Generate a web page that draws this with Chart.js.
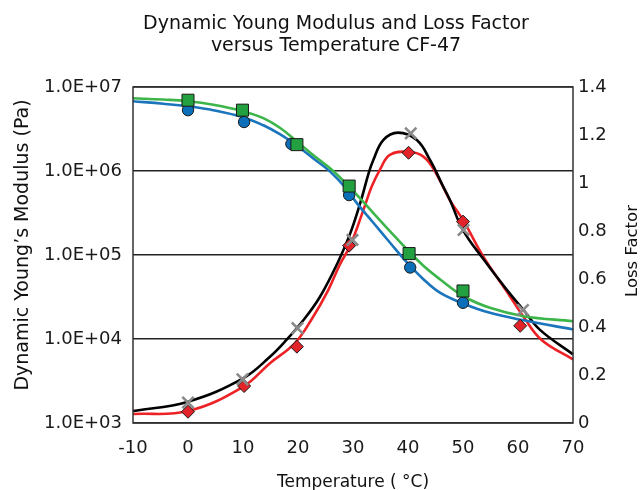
<!DOCTYPE html>
<html>
<head>
<meta charset="utf-8">
<script src="https://cdn.jsdelivr.net/npm/chart.js@4.4.1/dist/chart.umd.min.js"></script>
<style>
  body { margin: 0; background: #fff; }
  #wrap { width: 640px; height: 490px; }
</style>
</head>
<body>
<div id="wrap"><canvas id="c" width="640" height="490"></canvas></div>
<script>
// chart text
const titleLines = ['Dynamic Young Modulus and Loss Factor', 'versus Temperature CF-47']
const xTitle = 'Temperature ( °C)'
const yTitle = 'Dynamic Young\u2019s Modulus (Pa)'
const y2Title = 'Loss Factor'
const modulusTicks = [1e3, 1e4, 1e5, 1e6, 1e7]

// measured points [temperature, value]
const squaresE = [[0, 6.96e6], [9.9, 5.3e6], [19.8, 2.06e6], [29.3, 6.62e5], [40.2, 1.04e5], [50, 3.73e4]]
const circlesE = [[0, 5.3e6], [10.2, 3.83e6], [18.8, 2.1e6], [29.3, 5.17e5], [40.4, 7.1e4], [50, 2.7e4]]
const diamondsLF = [[0, 0.047], [10.2, 0.154], [19.8, 0.318], [29.3, 0.739], [40.1, 1.126], [50, 0.839], [60.4, 0.405]]
const crossesLF = [[0, 0.085], [9.9, 0.182], [19.9, 0.395], [29.9, 0.763], [40.5, 1.207], [50.1, 0.804], [60.9, 0.471]]

// fitted curves [temperature, value]
const greenCurve = [[-10, 7.35e6], [-4.5, 7.09e6], [0, 6.78e6], [4.6, 6.16e6], [10, 5.16e6], [13.7, 4.26e6], [16.7, 3.27e6],
  [19.8, 2.25e6], [22.8, 1.54e6], [26.4, 1.0e6], [30.7, 5.2e5], [33.7, 3.16e5], [36.7, 1.93e5], [39.8, 1.17e5],
  [42.8, 7.44e4], [45.8, 5.15e4], [50, 3.25e4], [54.9, 2.35e4], [61, 1.87e4], [70, 1.63e4]]
const blueCurve = [[-10, 6.78e6], [-4.5, 6.32e6], [0, 5.89e6], [4.6, 5.3e6], [10, 4.37e6], [13.7, 3.5e6], [16.7, 2.74e6],
  [19.8, 2.0e6], [22.8, 1.41e6], [25.8, 9.9e5], [28.9, 6.04e5], [30.7, 4.14e5], [33.7, 2.42e5], [36.7, 1.41e5],
  [39.8, 8.15e4], [42.8, 5.15e4], [45.8, 3.56e4], [50, 2.65e4], [54.9, 2.05e4], [61, 1.67e4], [70, 1.3e4]]
const blackCurve = [[-10, 0.05], [0, 0.089], [10, 0.186], [14.9, 0.276], [17.9, 0.346], [21, 0.429], [24, 0.526], [27.3, 0.672],
  [29.5, 0.79], [31.3, 0.915], [32.9, 1.045], [33.7, 1.096], [35.5, 1.179], [38.2, 1.21], [41.6, 1.179], [44, 1.096],
  [46.4, 0.985], [47.6, 0.93], [50, 0.804], [53.7, 0.683], [57.9, 0.557], [61, 0.471], [64, 0.388], [70, 0.286]]
const redCurve = [[-10, 0.0375], [0, 0.05], [10, 0.151], [14.9, 0.249], [19.4, 0.332], [22.4, 0.429], [25.5, 0.554], [27.6, 0.66],
  [29.5, 0.74], [31.9, 0.888], [33.4, 0.985], [35, 1.06], [36.7, 1.117], [40, 1.13], [42.8, 1.11], [45, 1.045],
  [47.6, 0.929], [50, 0.846], [53.7, 0.693], [57.9, 0.55], [61, 0.443], [64.3, 0.346], [70, 0.265]]

const pts = arr => arr.map(([x, y]) => ({x, y}))
const FONT = '"DejaVu Sans", sans-serif'

const curve = (data, color, axis) => ({
  data: pts(data), yAxisID: axis, showLine: true, pointRadius: 0,
  borderColor: color, borderWidth: 2.6, tension: 0.4, order: 3
})
const markers = (data, style, fill, radius, axis, border, width, order) => ({
  data: pts(data), yAxisID: axis, showLine: false, pointStyle: style, pointRadius: radius,
  backgroundColor: fill, borderColor: border || '#1a1a1a', borderWidth: width || 1, order: order || 2
})

const extraText = {
  id: 'extraText',
  afterDraw(chart) {
    const {ctx, chartArea: a} = chart
    ctx.save()
    ctx.strokeStyle = '#333'
    ctx.lineWidth = 1.5
    ctx.strokeRect(a.left, a.top, a.right - a.left, a.bottom - a.top)
    ctx.fillStyle = '#111'
    ctx.textAlign = 'center'
    ctx.textBaseline = 'alphabetic'
    ctx.font = '19px ' + FONT
    ctx.fillText(titleLines[0], 336, 29)
    ctx.fillText(titleLines[1], 336, 51)
    ctx.translate(28, 245)
    ctx.rotate(-Math.PI / 2)
    ctx.fillText(yTitle, 0, 0)
    ctx.restore()
    ctx.save()
    ctx.fillStyle = '#111'
    ctx.textAlign = 'center'
    ctx.translate(637, 251)
    ctx.rotate(-Math.PI / 2)
    ctx.font = '16.5px ' + FONT
    ctx.fillText(y2Title, 0, 0)
    ctx.restore()
  }
}

new Chart(document.getElementById('c'), {
  type: 'scatter',
  data: {
    datasets: [
      markers(crossesLF, 'crossRot', 'rgba(0,0,0,0)', 7, 'y2', '#ffffff', 1, 0),
      markers(crossesLF, 'crossRot', 'rgba(0,0,0,0)', 8, 'y2', '#8a8a8a', 2.6, 1),
      markers(diamondsLF, 'rectRot', '#e3232a', 6.5, 'y2'),
      markers(squaresE, 'rect', '#23a03f', 8.5, 'y'),
      markers(circlesE, 'circle', '#0a6fb8', 5.7, 'y'),
      curve(greenCurve, '#3cb54a', 'y'),
      curve(blueCurve, '#1b75bc', 'y'),
      curve(blackCurve, '#000000', 'y2'),
      curve(redCurve, '#ed2227', 'y2')
    ]
  },
  options: {
    responsive: false,
    animation: false,
    clip: false,
    layout: {padding: {top: 87, left: 0, right: 0, bottom: 0}},
    plugins: {legend: {display: false}, tooltip: {enabled: false}},
    scales: {
      x: {
        type: 'linear', min: -10, max: 70,
        grid: {display: false, drawTicks: false},
        border: {display: false},
        ticks: {stepSize: 10, padding: 15, color: '#1a1a1a', font: {family: FONT, size: 18}},
        title: {display: true, text: xTitle, color: '#111', font: {family: FONT, size: 17}, padding: {top: 0, bottom: -3}},
        afterFit: s => { s.height = 67 }
      },
      y: {
        type: 'logarithmic', position: 'left', min: 1e3, max: 1e7,
        grid: {color: '#222', lineWidth: 1.4, drawTicks: false},
        border: {display: false},
        afterBuildTicks: s => { s.ticks = modulusTicks.map(v => ({value: v})) },
        ticks: {
          padding: 11, color: '#1a1a1a', font: {family: FONT, size: 18},
          callback: v => '1.0E+0' + Math.round(Math.log10(v))
        },
        afterFit: s => { s.width = 133 }
      },
      y2: {
        type: 'linear', position: 'right', min: 0, max: 1.4,
        grid: {drawOnChartArea: false, drawTicks: false},
        border: {display: false},
        ticks: {
          stepSize: 0.2, padding: 5, color: '#1a1a1a', font: {family: FONT, size: 18},
          callback: v => String(Math.round(v * 10) / 10)
        },
        afterFit: s => { s.width = 67 }
      }
    }
  },
  plugins: [extraText]
})
</script>
</body>
</html>
